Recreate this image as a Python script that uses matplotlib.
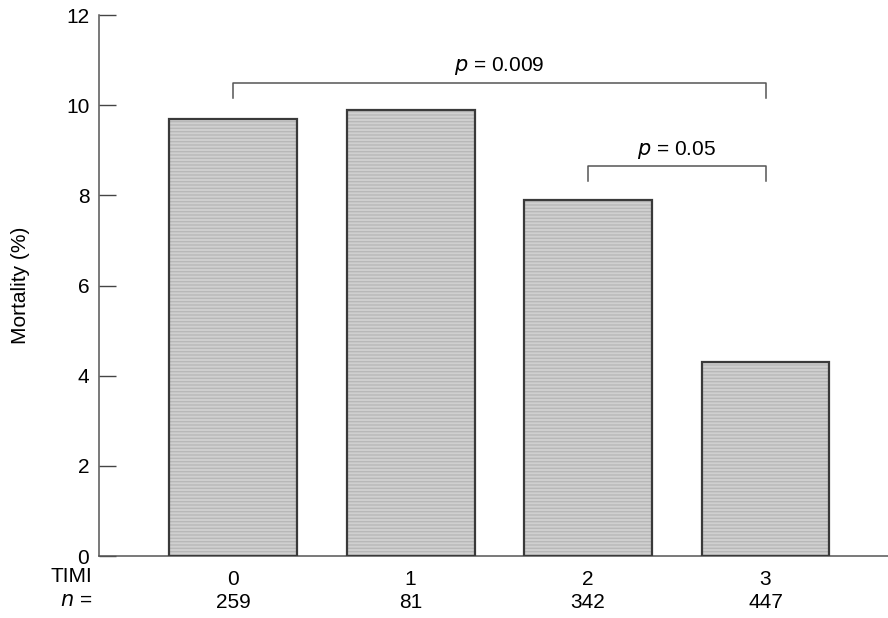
import matplotlib
matplotlib.use("Agg")
import matplotlib.pyplot as plt
import numpy as np

# donnees
timi = ['0', '1', '2', '3']
n_patients = [259, 81, 342, 447]
mortality = [9.7, 9.9, 7.9, 4.3]

# comparaisons (groupe a, groupe b, hauteur du crochet, texte)
brackets = [(0, 3, 10.5, '0.009'), (2, 3, 8.65, '0.05')]

plt.rcParams['font.family'] = ['Liberation Sans', 'DejaVu Sans']

fig = plt.figure(figsize=(8.88, 6.18), dpi=100)
ax = fig.add_axes([0.1115, 0.1003, 0.8885, 0.8754])

pos = np.arange(len(timi))
width = 0.72

# remplissage avec texture horizontale, puis contour
ax.bar(pos, mortality, width, color='#d0d0d0', edgecolor='#b8b8b8',
       hatch='-----', linewidth=0, zorder=2)
ax.bar(pos, mortality, width, fill=False, edgecolor='#3a3a3a',
       linewidth=1.6, zorder=3)

for a, b, h, txt in brackets:
    ax.plot([pos[a], pos[a], pos[b], pos[b]], [h - 0.33, h, h, h - 0.33],
            color='#555555', lw=1.1, zorder=4)
    ax.text((pos[a] + pos[b]) / 2, h + 0.12, '$p$ = ' + txt,
            ha='center', va='bottom', fontsize=15)

ax.set_xlim(-0.756, 3.69)
ax.set_ylim(0, 12)
ax.set_yticks([0, 2, 4, 6, 8, 10, 12])
ax.set_xticks(pos)
ax.set_xticklabels([f'{t}\n{n}' for t, n in zip(timi, n_patients)],
                   fontsize=15, linespacing=1.3)
ax.tick_params(axis='x', length=0, pad=10)
ax.tick_params(axis='y', direction='in', length=12, width=1, pad=7,
               labelsize=15, color='#444444')

for s in ['top', 'right']:
    ax.spines[s].set_visible(False)
for s in ['left', 'bottom']:
    ax.spines[s].set_color('#555555')
    ax.spines[s].set_linewidth(1.1)

ax.set_ylabel('Mortality (%)', fontsize=15, labelpad=26)

fig.text(92 / 888, 1 - 577 / 618, 'TIMI', ha='right', va='center', fontsize=15)
fig.text(92 / 888, 1 - 601 / 618, '$n$ =', ha='right', va='center', fontsize=15)

fig.savefig('out.png', dpi=100)
